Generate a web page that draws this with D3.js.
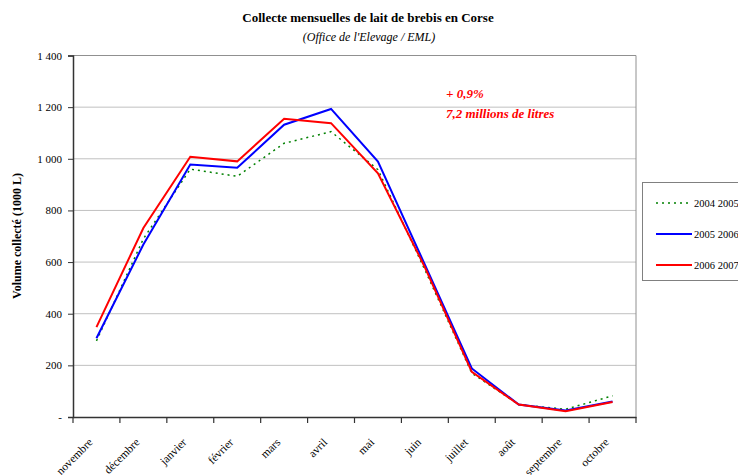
<!DOCTYPE html>
<html><head><meta charset="utf-8">
<script src="https://cdn.jsdelivr.net/npm/d3@7"></script>
<style>
body{margin:0;background:#fff;}
svg{display:block;}
svg text{font-family:"Liberation Serif","Times New Roman",serif;}
</style></head>
<body><svg id="chart" width="738" height="475"></svg>
<script>
const months = ["novembre","décembre","janvier","février","mars","avril","mai","juin","juillet","août","septembre","octobre"];
const s0405 = [295, 690, 960, 932, 1060, 1105, 958, 570, 170, 48, 30, 82];
const s0506 = [305, 668, 978, 965, 1132, 1193, 989, 590, 188, 48, 25, 60];
const s0607 = [348, 732, 1008, 990, 1155, 1138, 944, 580, 175, 48, 22, 58];
const seriesNames = ["2004 2005","2005 2006","2006 2007"];
const yTicks = [0,200,400,600,800,1000,1200,1400];

const series = [
  {name: seriesNames[0], values: s0405, color: "#008000", dash: "2,4", width: 1.5},
  {name: seriesNames[1], values: s0506, color: "#0000ff", dash: null, width: 2},
  {name: seriesNames[2], values: s0607, color: "#ff0000", dash: null, width: 2}
];

const svg = d3.select("#chart");
const plotL = 73, plotR = 636, plotT = 55.5, plotB = 417;

const x = d3.scaleBand().domain(months).range([plotL, plotR]);
const y = d3.scaleLinear().domain([0, 1400]).range([plotB, plotT]);

// grid
svg.append("g").selectAll("line").data(yTicks.filter(d => d > 0 && d < 1400)).join("line")
  .attr("x1", plotL).attr("x2", plotR)
  .attr("y1", d => y(d)).attr("y2", d => y(d))
  .attr("stroke", "#c0c0c0").attr("stroke-width", 1);

// plot frame (top and right)
svg.append("path")
  .attr("d", `M${plotL},${plotT}H${plotR}V${plotB}`)
  .attr("fill", "none").attr("stroke", "#909090").attr("stroke-width", 1);

// y axis
const fmt = d => d === 0 ? "-" : d3.format(",")(d).replace(",", "\u00a0");
const yAxis = svg.append("g").attr("transform", `translate(${plotL},0)`)
  .call(d3.axisLeft(y).tickValues(yTicks).tickSize(5).tickPadding(6).tickFormat(fmt))
  .attr("font-family", null).attr("font-size", null);
yAxis.select(".domain").attr("stroke", "#333").attr("stroke-width", 1.5);
yAxis.selectAll(".tick line").attr("stroke", "#333");
yAxis.selectAll("text").attr("font-size", 11).attr("fill", "#000");

// x axis
const xAxis = svg.append("g").attr("transform", `translate(0,${plotB})`)
  .call(d3.axisBottom(x).tickSize(0).tickSizeOuter(0))
  .attr("font-family", null).attr("font-size", null);
xAxis.select(".domain").attr("stroke", "#333").attr("stroke-width", 1.5);
xAxis.selectAll(".tick").remove();
// ticks at band boundaries
const bounds = months.map(m => x(m)).concat([plotR]);
xAxis.selectAll(".bt").data(bounds).join("line").attr("class", "bt")
  .attr("x1", d => d).attr("x2", d => d).attr("y1", 0).attr("y2", 6)
  .attr("stroke", "#333").attr("stroke-width", 1.2);
xAxis.selectAll(".lbl").data(months).join("text").attr("class", "lbl")
  .attr("transform", d => `translate(${x(d) + x.bandwidth() / 2 - 3},${26}) rotate(-45)`)
  .attr("text-anchor", "end").attr("font-size", 11.5).attr("fill", "#000")
  .text(d => d);

// lines
const line = d3.line().x((d, i) => x(months[i]) + x.bandwidth() / 2).y(d => y(d));
series.forEach(s => {
  svg.append("path").datum(s.values)
    .attr("d", line).attr("fill", "none")
    .attr("stroke", s.color).attr("stroke-width", s.width)
    .attr("stroke-dasharray", s.dash);
});

// titles
svg.append("text").attr("x", 368).attr("y", 22).attr("text-anchor", "middle")
  .attr("font-size", 13).attr("font-weight", "bold").text("Collecte mensuelles de lait de brebis en Corse");
svg.append("text").attr("x", 369).attr("y", 41).attr("text-anchor", "middle")
  .attr("font-size", 12).attr("font-style", "italic").text("(Office de l'Elevage / EML)");

// y-axis title
svg.append("text").attr("transform", "translate(21,236) rotate(-90)")
  .attr("text-anchor", "middle").attr("font-size", 12).attr("font-weight", "bold")
  .text("Volume collecté (1000 L)");

// annotation
svg.append("text").attr("x", 446).attr("y", 98).attr("fill", "#ff0000")
  .attr("font-size", 13).attr("font-weight", "bold").attr("font-style", "italic").text("+ 0,9%");
svg.append("text").attr("x", 446).attr("y", 118).attr("fill", "#ff0000")
  .attr("font-size", 13).attr("font-weight", "bold").attr("font-style", "italic").text("7,2 millions de litres");

// legend
const lg = svg.append("g");
lg.append("rect").attr("x", 642.5).attr("y", 182.5).attr("width", 110).attr("height", 98)
  .attr("fill", "#fff").attr("stroke", "#808080");
series.forEach((s, i) => {
  const yy = 203 + i * 31;
  lg.append("line").attr("x1", 656).attr("x2", 692).attr("y1", yy).attr("y2", yy)
    .attr("stroke", s.color).attr("stroke-width", s.width).attr("stroke-dasharray", s.dash);
  lg.append("text").attr("x", 694).attr("y", yy + 4).attr("font-size", 10.5).text(s.name);
});
</script></body></html>
